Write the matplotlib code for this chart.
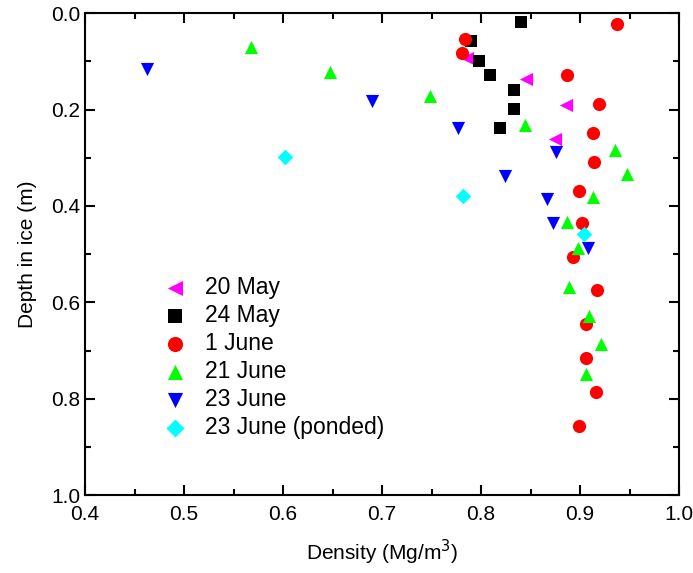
import matplotlib.pyplot as plt
from matplotlib.ticker import MultipleLocator

plt.rcParams['font.family'] = ['Liberation Sans', 'DejaVu Sans']

# density (Mg/m^3) and depth (m)
may20_x = [0.786, 0.845, 0.886, 0.875]
may20_y = [0.094, 0.136, 0.191, 0.261]

may24_x = [0.840, 0.790, 0.798, 0.809, 0.833, 0.833, 0.819]
may24_y = [0.018, 0.058, 0.099, 0.129, 0.159, 0.199, 0.239]

jun1_x = [0.937, 0.784, 0.781, 0.887, 0.919, 0.913, 0.914, 0.899, 0.902,
          0.893, 0.917, 0.906, 0.906, 0.916, 0.899]
jun1_y = [0.023, 0.053, 0.082, 0.129, 0.189, 0.248, 0.309, 0.369, 0.435,
          0.506, 0.575, 0.645, 0.715, 0.786, 0.856]

jun21_x = [0.568, 0.647, 0.748, 0.844, 0.935, 0.947, 0.913, 0.887, 0.898,
           0.889, 0.909, 0.921, 0.906]
jun21_y = [0.071, 0.122, 0.172, 0.232, 0.283, 0.333, 0.382, 0.433, 0.488,
           0.568, 0.628, 0.687, 0.748]

jun23_x = [0.463, 0.690, 0.777, 0.876, 0.824, 0.867, 0.873, 0.908]
jun23_y = [0.117, 0.183, 0.238, 0.288, 0.338, 0.386, 0.436, 0.488]

ponded_x = [0.602, 0.782, 0.904]
ponded_y = [0.299, 0.379, 0.459]

fig = plt.figure(figsize=(6.93, 5.73), dpi=100)
ax = fig.add_axes([0.1227, 0.1353, 0.8573, 0.842])

ms = 90
ax.scatter(may20_x, may20_y, marker='<', s=ms, color='#ff00ff', linewidths=0, label='20 May')
ax.scatter(may24_x, may24_y, marker='s', s=ms * 0.8, color='black', linewidths=0, label='24 May')
ax.scatter(jun1_x, jun1_y, marker='o', s=ms, color='#ff0000', linewidths=0, label='1 June')
ax.scatter(jun21_x, jun21_y, marker='^', s=ms, color='#00ff00', linewidths=0, label='21 June')
ax.scatter(jun23_x, jun23_y, marker='v', s=ms, color='#0000ff', linewidths=0, label='23 June')
ax.scatter(ponded_x, ponded_y, marker='D', s=ms * 0.7, color='#00ffff', linewidths=0, label='23 June (ponded)')

ax.set_xlim(0.4, 1.0)
ax.set_ylim(1.0, 0.0)
ax.xaxis.set_major_locator(MultipleLocator(0.1))
ax.xaxis.set_minor_locator(MultipleLocator(0.05))
ax.yaxis.set_major_locator(MultipleLocator(0.2))
ax.yaxis.set_minor_locator(MultipleLocator(0.1))
ax.xaxis.set_major_formatter(plt.FormatStrFormatter('%.1f'))
ax.yaxis.set_major_formatter(plt.FormatStrFormatter('%.1f'))

ax.tick_params(which='both', direction='in', top=True, right=True, labelsize=15, width=1.5)
ax.tick_params(which='major', length=7)
ax.tick_params(which='minor', length=4)
ax.tick_params(axis='x', pad=7)
for sp in ax.spines.values():
    sp.set_linewidth(1.5)

ax.set_xlabel('Density (Mg/m$^3$)', fontsize=15, labelpad=10)
ax.set_ylabel('Depth in ice (m)', fontsize=15, labelpad=10)

ax.legend(loc='upper left', bbox_to_anchor=(0.123, 0.455), frameon=False, fontsize=16.5,
          handletextpad=0.55, labelspacing=0.22, scatterpoints=1, borderaxespad=0,
          borderpad=0, handlelength=1.5, markerscale=1.15)

fig.savefig('out.png', dpi=100)
